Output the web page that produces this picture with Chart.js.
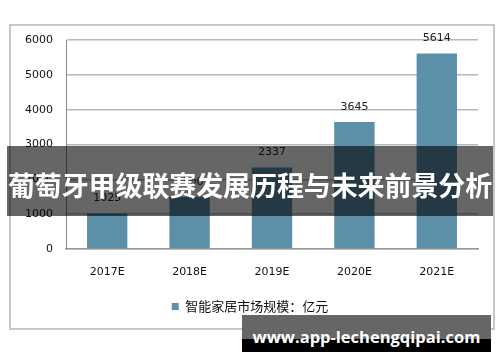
<!DOCTYPE html>
<html>
<head>
<meta charset="utf-8">
<script src="https://cdn.jsdelivr.net/npm/chart.js@4.4.0/dist/chart.umd.min.js"></script>
<style>
  body { margin: 0; background: #fff; }
  #wrap { position: relative; width: 500px; height: 362px; overflow: hidden; }
  #frame { position: absolute; left: 9px; top: 24px; width: 482px; height: 302px; border: 2px solid #c8c8c8; }
  canvas { position: absolute; left: 0; top: 0; }
  #banner {
    position: absolute; left: 7px; top: 146px; width: 486px; height: 70px;
    background: rgba(0, 0, 0, 0.6); color: #fff;
    font: bold 27px "Noto Sans CJK SC", sans-serif;
    text-align: center; white-space: nowrap; line-height: 78px; letter-spacing: -0.1px;
  }
  #mark {
    position: absolute; left: 242px; top: 315px; width: 249px; height: 37px;
    background: linear-gradient(#666 0, #666 24px, #000 24px, #000 100%);
    color: #fff; font: bold 16.5px "Open Sans", sans-serif;
    text-align: center; line-height: 44px; white-space: nowrap;
  }
</style>
</head>
<body>
<div id="wrap">
  <div id="frame"></div>
  <canvas id="chart" width="500" height="362"></canvas>
  <div id="banner">葡萄牙甲级联赛发展历程与未来前景分析</div>
  <div id="mark">www.app-lechengqipai.com</div>
</div>
<script>
// 数据
const years = ['2017E', '2018E', '2019E', '2020E', '2021E'];
const marketSize = [1025, 1500, 2337, 3645, 5614];
const seriesName = '智能家居市场规模：亿元';
const yTicks = [0, 1000, 2000, 3000, 4000, 5000, 6000];

const barColor = '#5b90a8';

// 柱顶数值标签
const valueLabels = {
    id: 'valueLabels',
    afterDatasetsDraw(chart) {
        const ctx = chart.ctx;
        ctx.save();
        ctx.font = '11px "DejaVu Sans"';
        ctx.fillStyle = '#222';
        ctx.textAlign = 'center';
        ctx.textBaseline = 'middle';
        chart.getDatasetMeta(0).data.forEach((bar, i) => {
            ctx.fillText(marketSize[i], bar.x, bar.y - 15);
        });
        ctx.restore();
    }
};

// 图例稍微右移
const legendShift = {
    id: 'legendShift',
    afterLayout(chart) {
        chart.legend.left += 6;
        chart.legend.right += 6;
    }
};

new Chart(document.getElementById('chart'), {
    type: 'bar',
    data: {
        labels: years,
        datasets: [{
            label: seriesName,
            data: marketSize,
            backgroundColor: barColor,
            categoryPercentage: 1,
            barPercentage: 0.49
        }]
    },
    options: {
        responsive: false,
        animation: false,
        layout: { padding: { left: 10, right: 22, top: 40, bottom: 39 } },
        scales: {
            x: {
                grid: { display: false, drawTicks: false },
                border: { color: '#999', width: 1.5 },
                ticks: { color: '#111', font: { family: 'DejaVu Sans', size: 11 }, padding: 17 },
                afterFit(scale) { scale.height = 40; }
            },
            y: {
                min: 0,
                max: 6000,
                afterBuildTicks(scale) { scale.ticks = yTicks.map(v => ({ value: v })); },
                grid: { color: '#b8b8b8', lineWidth: 1.5, drawTicks: false },
                border: { color: '#888', width: 1 },
                ticks: {
                    color: '#111',
                    font: { family: 'DejaVu Sans', size: 11 },
                    padding: 13,
                    callback: v => String(v)
                },
                afterFit(scale) { scale.width = 56; }
            }
        },
        plugins: {
            legend: {
                position: 'bottom',
                labels: {
                    boxWidth: 7,
                    boxHeight: 7,
                    padding: 11,
                    color: '#111',
                    font: { family: 'Noto Sans CJK SC', size: 13 }
                }
            },
            tooltip: { enabled: false }
        }
    },
    plugins: [valueLabels, legendShift]
});
</script>
</body>
</html>
